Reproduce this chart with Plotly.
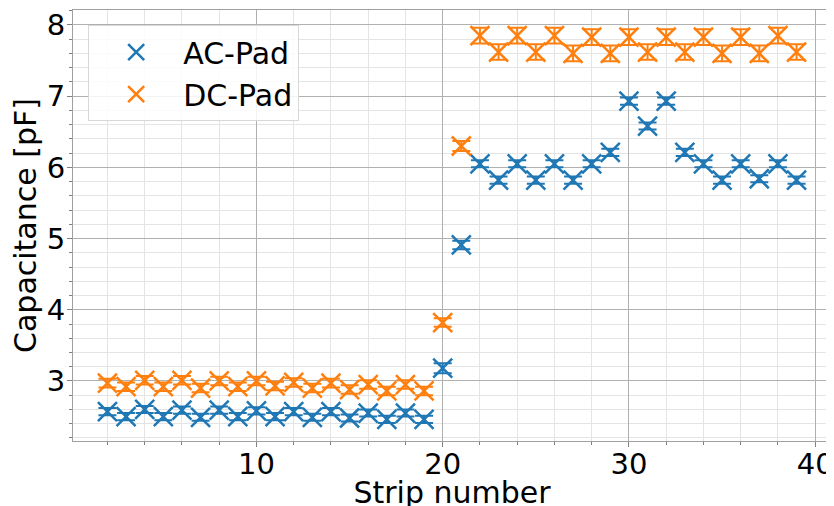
import plotly.graph_objects as go

strips = list(range(2, 40))

ac_pad = [2.57, 2.50, 2.60, 2.50, 2.59, 2.49, 2.59, 2.50, 2.58, 2.50,
          2.57, 2.49, 2.57, 2.48, 2.55, 2.46, 2.55, 2.46,
          3.18, 4.91, 6.05, 5.82, 6.05, 5.82, 6.05, 5.82, 6.05, 6.21,
          6.93, 6.58, 6.93, 6.21, 6.05, 5.82, 6.05, 5.84, 6.05, 5.82]
ac_err = [0.05] * 18 + [0.07, 0.06] + [0.05] * 18

dc_pad = [2.97, 2.92, 3.01, 2.92, 3.01, 2.90, 3.00, 2.92, 3.00, 2.93,
          2.98, 2.90, 2.97, 2.88, 2.95, 2.86, 2.95, 2.86,
          3.82, 6.30, 7.85, 7.62, 7.85, 7.62, 7.85, 7.60, 7.83, 7.60,
          7.83, 7.62, 7.83, 7.62, 7.83, 7.60, 7.83, 7.60, 7.85, 7.62]
dc_err = [0.06] * 18 + [0.06, 0.07] + [0.11] * 18

BLUE = "#1f77b4"
ORANGE = "#ff7f0e"
FONT = "DejaVu Sans"

fig = go.Figure()
for name, y, err, col in [("AC-Pad", ac_pad, ac_err, BLUE), ("DC-Pad", dc_pad, dc_err, ORANGE)]:
    fig.add_trace(go.Scatter(
        x=strips, y=y, name=name, mode="markers",
        marker=dict(symbol="x-thin", size=19, color=col, line=dict(color=col, width=2.5)),
        error_y=dict(type="data", array=err, visible=True, color=col, thickness=2, width=9),
    ))

axis_common = dict(
    showline=True, linecolor="#a0a0a0", linewidth=1.2, mirror=True,
    showgrid=True, gridcolor="#b0b0b0", gridwidth=1.3,
    ticks="outside", ticklen=5, tickcolor="#808080", tickwidth=1.2,
    zeroline=False, automargin=False,
    tickfont=dict(family=FONT, size=29, color="black"),
)

fig.update_xaxes(
    range=[0.15, 40.85], tick0=0, dtick=10, ticklabelstandoff=-8,
    minor=dict(dtick=2, showgrid=True, gridcolor="#e4e4e4", gridwidth=0.8,
               ticks="outside", ticklen=3, tickcolor="#808080"),
    title=dict(text="Strip number", font=dict(family=FONT, size=30, color="black"), standoff=10),
    **axis_common,
)
fig.update_yaxes(
    range=[2.157, 8.21], tick0=0, dtick=1, ticklabelstandoff=-4,
    minor=dict(dtick=0.2, showgrid=True, gridcolor="#e4e4e4", gridwidth=0.8,
               ticks="outside", ticklen=3, tickcolor="#808080"),
    title=dict(text="Capacitance [pF]", font=dict(family=FONT, size=30, color="black"), standoff=8),
    **axis_common,
)

fig.update_layout(
    width=826, height=502,
    margin=dict(l=65, r=3, t=2, b=69),
    paper_bgcolor="white", plot_bgcolor="white",
    font=dict(family=FONT, size=29, color="black"),
    legend=dict(
        x=0.02, y=0.965, xanchor="left", yanchor="top",
        bgcolor="rgba(255,255,255,0.85)", bordercolor="#d8d8d8", borderwidth=1,
        font=dict(family=FONT, size=30, color="black"),
        itemwidth=84, tracegroupgap=0,
    ),
)

fig.write_html("out.html")
